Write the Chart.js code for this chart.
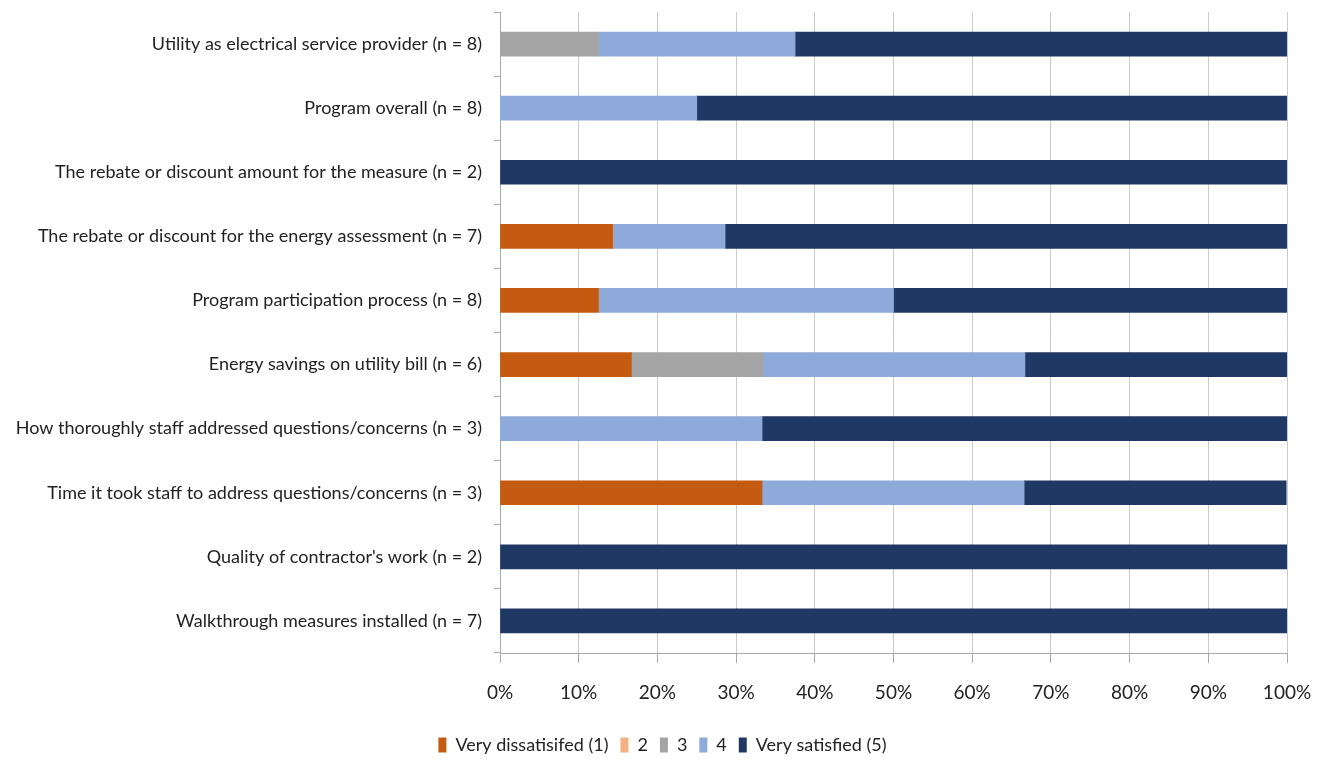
<!DOCTYPE html>
<html>
<head>
<meta charset="utf-8">
<script src="https://cdn.jsdelivr.net/npm/chart.js@4/dist/chart.umd.min.js"></script>
<style>
  html, body { margin: 0; padding: 0; background: #fff; }
  #wrap { width: 1325px; height: 759px; }
</style>
</head>
<body>
<div id="wrap"><canvas id="myChart" width="1325" height="759"></canvas></div>
<script>
// Survey items, top to bottom
const categories = [
  'Utility as electrical service provider (n = 8)',
  'Program overall (n = 8)',
  'The rebate or discount amount for the measure (n = 2)',
  'The rebate or discount for the energy assessment (n = 7)',
  'Program participation process (n = 8)',
  'Energy savings on utility bill (n = 6)',
  'How thoroughly staff addressed questions/concerns (n = 3)',
  'Time it took staff to address questions/concerns (n = 3)',
  "Quality of contractor's work (n = 2)",
  'Walkthrough measures installed (n = 7)',
];

// Share of respondents per rating (%), null where nobody gave that rating
const veryDissatisfied = [null, null, null, 14.3, 12.5, 16.7, null, 33.3, null, null];
const rating2 = [null, null, null, null, null, null, null, null, null, null];
const rating3 = [12.5, null, null, null, null, 16.7, null, null, null, null];
const rating4 = [25, 25, null, 14.3, 37.5, 33.3, 33.3, 33.3, null, null];
const verySatisfied = [62.5, 75, 100, 71.4, 50, 33.3, 66.7, 33.3, 100, 100];

const xTicks = [0, 10, 20, 30, 40, 50, 60, 70, 80, 90, 100];

const FONT = "Lato, 'Open Sans', sans-serif";
Chart.defaults.font.family = FONT;
Chart.defaults.font.size = 18;
Chart.defaults.color = '#222';

// push the legend row a little lower than the default layout puts it
const legendNudge = {
  id: 'legendNudge',
  afterLayout(chart) {
    const lg = chart.legend;
    const h = lg.height;
    lg.top = 724;
    lg.bottom = lg.top + h;
  },
};

const canvas = document.getElementById('myChart');

const chart = new Chart(canvas, {
  type: 'bar',
  data: {
    labels: categories,
    datasets: [
      { label: 'Very dissatisifed (1)', data: veryDissatisfied, backgroundColor: '#C55A11' },
      { label: '2', data: rating2, backgroundColor: '#F4B183' },
      { label: '3', data: rating3, backgroundColor: '#A5A5A5' },
      { label: '4', data: rating4, backgroundColor: '#8EAADB' },
      { label: 'Very satisfied (5)', data: verySatisfied, backgroundColor: '#1F3864' },
    ],
  },
  plugins: [legendNudge],
  options: {
    indexAxis: 'y',
    responsive: false,
    animation: false,
    barThickness: 24,
    skipNull: true,
    layout: {
      padding: 0,
    },
    plugins: {
      tooltip: { enabled: false },
      legend: {
        position: 'bottom',
        labels: {
          boxWidth: 8,
          boxHeight: 15,
          padding: 12,
          color: '#222',
        },
      },
    },
    scales: {
      x: {
        stacked: true,
        min: 0,
        max: 100,
        afterBuildTicks: (scale) => {
          scale.ticks = xTicks.map((v) => ({ value: v }));
        },
        afterFit: (scale) => {
          scale.height = 66;
          scale.paddingRight = 38;
        },
        grid: {
          color: '#CACACA',
          tickLength: 10,
          tickColor: '#AAAAAA',
        },
        border: { color: '#AAAAAA' },
        ticks: {
          padding: 18,
          font: { size: 19 },
          color: '#222',
          callback: (v) => v + '%',
        },
      },
      y: {
        stacked: true,
        afterFit: (scale) => {
          scale.width = 500;
          scale.paddingTop = 12;
          scale.paddingBottom = 0;
        },
        grid: {
          offset: true,
          drawOnChartArea: false,
          tickLength: 6,
          tickColor: '#AAAAAA',
        },
        border: { color: '#AAAAAA' },
        ticks: {
          padding: 12,
          color: '#222',
        },
      },
    },
  },
});
</script>
</body>
</html>
